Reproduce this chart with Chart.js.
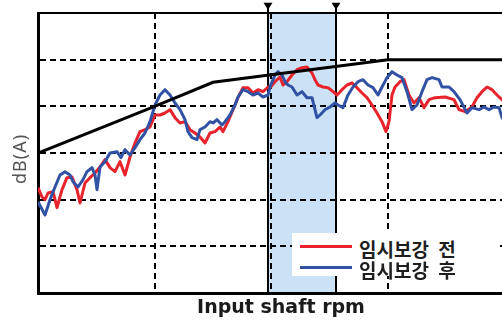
<!DOCTYPE html>
<html>
<head>
<meta charset="utf-8">
<script src="https://cdn.jsdelivr.net/npm/chart.js@4.4.1/dist/chart.umd.min.js"></script>
<style>
  html, body { margin: 0; padding: 0; background: #fff; overflow: hidden; }
  #wrap { position: relative; width: 526px; height: 321px; }
  #legend { position: absolute; left: 292px; top: 233px; width: 207px; height: 43px; background: #fff; }
  .item { position: absolute; left: 0; width: 207px; height: 22px; }
  .swatch { position: absolute; left: 8px; top: 10px; width: 52px; height: 3px; }
  .label { position: absolute; left: 67px; top: 0; line-height: 22px; font: bold 19px "Noto Sans CJK KR", sans-serif; color: #1e1e1e; white-space: nowrap; word-spacing: 5px; }
</style>
</head>
<body>
<div id="wrap">
  <canvas id="noiseChart" width="526" height="321"></canvas>
  <div id="legend"></div>
</div>
<script>
// series labels and colours
const seriesNames = ['임시보강 전', '임시보강 후'];
const seriesColors = ['#e8232b', '#3152a4'];

// before temporary reinforcement
const redRpm = [1000, 1024, 1042, 1060, 1090, 1114, 1144, 1174, 1204, 1234, 1252, 1282, 1312, 1342, 1372, 1402, 1432, 1462, 1492, 1522,
  1552, 1582, 1612, 1642, 1672, 1702, 1732, 1762, 1792, 1822, 1852, 1882, 1912, 1942, 1972, 2002, 2032, 2062, 2092, 2110,
  2140, 2170, 2200, 2230, 2260, 2290, 2320, 2350, 2380, 2392, 2422, 2452, 2470, 2494, 2524, 2554, 2584, 2614, 2644, 2662,
  2680, 2710, 2740, 2770, 2794, 2824, 2854, 2884, 2914, 2944, 2974, 3004, 3034, 3064, 3088, 3106, 3124, 3142, 3172, 3196,
  3226, 3256, 3286, 3316, 3346, 3382, 3442, 3496, 3526, 3562, 3604, 3634, 3664, 3694, 3724, 3754, 3784, 3820];
const redDb = [65.8, 64.4, 64.0, 65.0, 65.2, 62.8, 65.5, 67.3, 67.4, 65.5, 63.5, 66.5, 67.3, 68.0, 68.9, 70.0, 68.8, 68.2, 69.7, 67.7,
  70.4, 72.5, 74.2, 74.5, 74.9, 76.7, 76.7, 77.0, 77.5, 76.3, 75.5, 75.7, 74.5, 74.0, 73.4, 72.5, 74.0, 74.2, 74.9, 74.2,
  75.7, 77.5, 79.3, 80.8, 80.8, 80.0, 80.5, 80.2, 80.9, 80.8, 81.7, 82.4, 81.2, 81.7, 82.7, 83.5, 83.8, 83.9, 83.0, 82.0,
  81.2, 80.9, 80.8, 80.2, 79.7, 80.5, 81.2, 81.5, 80.8, 80.0, 79.3, 78.2, 77.0, 75.7, 74.2, 75.7, 79.7, 80.9, 81.7, 82.0,
  79.7, 78.5, 79.3, 77.8, 79.0, 79.3, 79.4, 79.0, 77.5, 77.2, 77.9, 79.3, 80.2, 80.9, 80.5, 79.7, 79.0, 78.2];

// after temporary reinforcement
const blueRpm = [1000, 1042, 1072, 1102, 1132, 1162, 1192, 1210, 1240, 1270, 1294, 1324, 1342, 1354, 1372, 1402, 1432, 1474, 1498, 1522,
  1552, 1582, 1612, 1642, 1672, 1702, 1732, 1762, 1792, 1822, 1852, 1882, 1900, 1924, 1954, 1972, 2002, 2032, 2050, 2074,
  2104, 2122, 2152, 2182, 2200, 2230, 2260, 2290, 2320, 2350, 2380, 2392, 2422, 2440, 2464, 2482, 2500, 2524, 2554, 2584,
  2614, 2644, 2662, 2674, 2692, 2722, 2752, 2782, 2800, 2830, 2860, 2890, 2920, 2950, 2980, 3010, 3040, 3064, 3094, 3124,
  3154, 3184, 3214, 3244, 3274, 3304, 3334, 3364, 3406, 3424, 3466, 3496, 3532, 3574, 3604, 3646, 3676, 3706, 3736, 3766,
  3784, 3820];
const blueDb = [63.7, 61.7, 64.0, 65.9, 67.7, 68.2, 67.7, 66.7, 65.9, 67.0, 68.2, 68.8, 67.7, 65.5, 68.9, 69.7, 71.0, 71.2, 70.3, 71.5,
  70.7, 71.8, 73.0, 74.0, 75.7, 78.2, 79.7, 80.5, 79.7, 78.5, 77.5, 76.0, 74.2, 73.3, 73.0, 74.5, 74.9, 75.7, 75.5, 76.0,
  75.2, 75.7, 76.7, 78.2, 79.4, 80.5, 80.2, 79.7, 80.0, 79.4, 79.7, 80.9, 82.7, 83.2, 82.7, 81.7, 81.2, 80.9, 79.7, 80.2,
  79.3, 79.3, 77.5, 76.3, 76.7, 77.5, 77.9, 78.5, 78.2, 77.8, 79.7, 80.9, 81.7, 82.0, 81.2, 80.8, 79.7, 80.9, 82.3, 83.2,
  82.7, 82.3, 80.2, 77.5, 78.2, 80.2, 82.0, 82.3, 82.0, 80.9, 80.9, 80.2, 79.0, 77.0, 77.8, 77.5, 77.9, 77.5, 77.9, 77.8,
  76.3, 75.4];

// reference limit curve
const limitRpm = [1000, 1700, 2050, 3100, 3916];
const limitDb = [71.0, 78.0, 81.6, 85.0, 85.0];

// highlighted rpm range and its edge markers
const bandRpm = [2380, 2788];
const markerDb = 93.1;

// axis ranges and dashed grid positions
const xMin = 1000, xMax = 3916;
const yMin = 50, yMax = 92;
const rpmGrid = [1700, 2400, 3100, 3800];
const dbGrid = [57, 64, 71, 78, 85];

const pts = (xs, ys) => xs.map((x, i) => ({ x: x, y: ys[i] }));

// light blue range drawn under the grid
const bandPlugin = {
  id: 'band',
  beforeDraw(chart) {
    const { ctx, chartArea, scales } = chart;
    const x0 = scales.x.getPixelForValue(bandRpm[0]);
    const x1 = scales.x.getPixelForValue(bandRpm[1]);
    ctx.save();
    ctx.fillStyle = '#cbe1f5';
    ctx.fillRect(x0, chartArea.top, x1 - x0, chartArea.bottom - chartArea.top);
    ctx.restore();
  }
};

// closing line along the top of the plot
const topFrame = {
  id: 'topFrame',
  beforeDatasetsDraw(chart) {
    const { ctx, chartArea } = chart;
    ctx.save();
    ctx.strokeStyle = '#000';
    ctx.lineWidth = 2;
    ctx.beginPath();
    ctx.moveTo(chartArea.left, chartArea.top);
    ctx.lineTo(chartArea.right, chartArea.top);
    ctx.stroke();
    ctx.restore();
  }
};

// down-pointing triangles above the range edges (outside the chart area,
// where point elements are skipped)
const edgeTriangles = {
  id: 'edgeTriangles',
  afterDatasetsDraw(chart) {
    const { ctx, scales } = chart;
    const y = scales.y.getPixelForValue(markerDb);
    ctx.save();
    ctx.fillStyle = '#000';
    bandRpm.forEach(v => {
      const x = scales.x.getPixelForValue(v);
      ctx.beginPath();
      ctx.moveTo(x - 4.5, y - 3);
      ctx.lineTo(x + 4.5, y - 3);
      ctx.lineTo(x, y + 4);
      ctx.closePath();
      ctx.fill();
    });
    ctx.restore();
  }
};

// rotated y axis title
const yTitle = {
  id: 'yTitle',
  afterDraw(chart) {
    const { ctx, chartArea } = chart;
    ctx.save();
    ctx.translate(chartArea.left - 17, (chartArea.top + chartArea.bottom) / 2 + 6);
    ctx.rotate(-Math.PI / 2);
    ctx.font = '18px "Noto Sans"';
    ctx.letterSpacing = '1px';
    ctx.fillStyle = '#555';
    ctx.textAlign = 'center';
    ctx.textBaseline = 'middle';
    ctx.fillText('dB(A)', 0, 0);
    ctx.restore();
  }
};

const edgeLine = (rpm) => ({
  data: [{ x: rpm, y: yMin }, { x: rpm, y: markerDb }],
  borderColor: '#000',
  borderWidth: 2,
  pointRadius: 0,
  clip: false,
  order: 3
});

const chart = new Chart(document.getElementById('noiseChart'), {
  type: 'line',
  data: {
    datasets: [
      { label: 'limit', data: pts(limitRpm, limitDb), borderColor: '#000', borderWidth: 3, pointRadius: 0, order: 0 },
      { label: seriesNames[1], data: pts(blueRpm, blueDb), borderColor: seriesColors[1], borderWidth: 3, pointRadius: 0, borderJoinStyle: 'round', order: 1 },
      { label: seriesNames[0], data: pts(redRpm, redDb), borderColor: seriesColors[0], borderWidth: 3, pointRadius: 0, borderJoinStyle: 'round', order: 2 },
      edgeLine(bandRpm[0]),
      edgeLine(bandRpm[1])
    ]
  },
  options: {
    responsive: false,
    animation: false,
    devicePixelRatio: 1,
    layout: { padding: { top: 13, right: 2, left: 0, bottom: 0 }, autoPadding: false },
    plugins: { legend: { display: false }, tooltip: { enabled: false } },
    scales: {
      x: {
        type: 'linear', min: xMin, max: xMax,
        ticks: { display: false },
        afterBuildTicks: (s) => { s.ticks = rpmGrid.map(v => ({ value: v })); },
        afterFit: (s) => { s.height = 28; },
        grid: { color: '#000', lineWidth: 2, drawTicks: false },
        border: { display: true, color: '#000', width: 3, dash: [6, 4] },
        title: { display: true, text: 'Input shaft rpm', color: '#1a1a1a',
          font: { family: 'DejaVu Sans', size: 19, weight: 'bold' }, padding: { top: 0, bottom: 2 } }
      },
      y: {
        type: 'linear', min: yMin, max: yMax,
        ticks: { display: false },
        afterBuildTicks: (s) => { s.ticks = dbGrid.map(v => ({ value: v })); },
        afterFit: (s) => { s.width = 38; },
        grid: { color: '#000', lineWidth: 2, drawTicks: false },
        border: { display: true, color: '#000', width: 3, dash: [6, 4] }
      }
    }
  },
  plugins: [bandPlugin, topFrame, edgeTriangles, yTitle]
});

// legend box inside the plot
const legend = document.getElementById('legend');
seriesNames.forEach((name, i) => {
  const item = document.createElement('div');
  item.className = 'item';
  item.style.top = (2 + i * 21) + 'px';
  item.innerHTML = '<div class="swatch" style="background:' + seriesColors[i] + '"></div><div class="label">' + name + '</div>';
  legend.appendChild(item);
});
</script>
</body>
</html>
